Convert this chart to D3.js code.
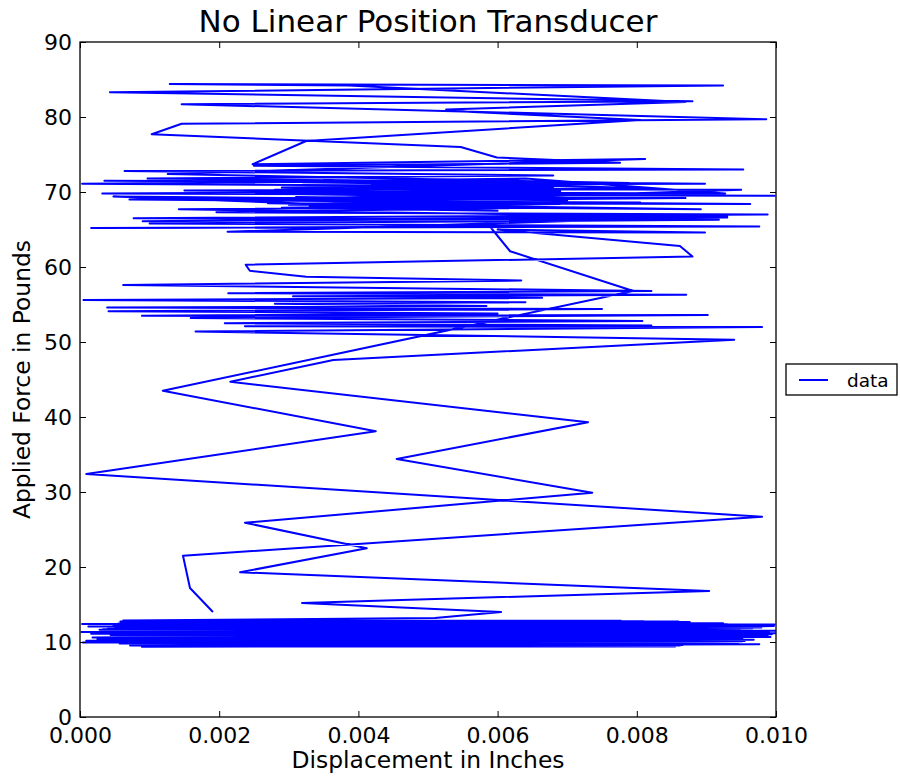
<!DOCTYPE html>
<html>
<head>
<meta charset="utf-8">
<script src="https://cdn.jsdelivr.net/npm/d3@7"></script>
<style>
  body { margin: 0; background: #fff; }
  text { font-family: "DejaVu Sans", sans-serif; fill: #000; }
</style>
</head>
<body>
<svg id="chart" width="900" height="777"></svg>
<script>
// Displacement (in) vs applied force (lb), in acquisition order.
// Loading ramp from the first sample up to the upper hold.
const rampUp = [
  [0.00191,14.0],[0.00158,17.2],[0.00148,21.5],[0.00980,26.7],[0.00009,32.4],
  [0.00425,38.1],[0.00119,43.5],[0.00795,56.8],[0.00618,62.1],[0.00589,65.4]
];

// Upper hold, first pass (65–74 lb).
const upperHoldA = [
  [0.00016,65.2],[0.00976,65.4],[0.00100,65.8],[0.00918,66.3],[0.00077,66.5],
  [0.00988,67.0],[0.00196,67.3],[0.00640,67.9],[0.00330,68.1],[0.00892,67.7],
  [0.00270,68.5],[0.00963,68.4],[0.00071,69.0],[0.00560,69.2],[0.00380,69.6],
  [0.00998,69.5],[0.00032,69.8],[0.00690,70.1],[0.00300,70.4],[0.00950,70.3],
  [0.00300,68.3],[0.00650,68.6],[0.00280,68.9],[0.00670,69.3],[0.00310,69.7],
  [0.00620,70.0],[0.00290,70.6],[0.00660,70.9],[0.00320,71.3],[0.00630,71.6],
  [0.00003,71.1],[0.00600,70.8],[0.00420,71.0],[0.00898,71.1],[0.00097,71.8],
  [0.00680,72.2],[0.00064,72.8],[0.00953,73.0],[0.00250,73.5],[0.00776,73.9]
];

// Peak excursion up to ~84 lb and back.
const peak = [
  [0.00599,74.6],[0.00547,76.0],[0.00103,77.7],[0.00146,79.1],[0.00986,79.7],
  [0.00146,81.7],[0.00880,82.1],[0.00043,83.3],[0.00924,84.2],[0.00129,84.4],
  [0.00386,84.2],[0.00870,82.0],[0.00526,81.0],[0.00557,80.7],[0.00805,79.6],
  [0.00325,76.8],[0.00248,73.7],[0.00812,74.4]
];

// Upper hold, second pass.
const upperHoldB = [
  [0.00126,72.4],[0.00789,71.2],[0.00035,71.5],[0.00650,71.3],[0.00350,71.6],
  [0.00820,70.5],[0.00150,70.2],[0.00620,69.9],[0.00340,70.0],[0.00927,69.8],
  [0.00640,71.8],[0.00300,71.4],[0.00680,70.7],[0.00280,70.3],[0.00650,69.5],
  [0.00330,69.1],[0.00690,68.4],[0.00290,67.9],[0.00600,67.5],
  [0.00048,69.4],[0.00700,68.9],[0.00310,69.3],[0.00870,69.2],[0.00330,68.8],
  [0.00805,68.6],[0.00420,68.2],[0.00660,68.0],[0.00142,67.7],[0.00930,66.6],
  [0.00090,66.1],[0.00930,66.8],[0.00212,64.7],[0.00898,64.6],[0.00600,65.0]
];

// Unloading towards the middle hold.
const rampDownUpper = [
  [0.00862,62.8],[0.00880,61.4],[0.00238,60.3],[0.00244,59.5],[0.00325,58.7],
  [0.00634,58.2]
];

// Middle hold (51–58 lb).
const midHold = [
  [0.00062,57.6],[0.00821,56.8],[0.00213,56.5],[0.00871,56.3],[0.00306,56.1],
  [0.00664,55.9],[0.00005,55.6],[0.00640,55.3],[0.00280,55.1],[0.00584,54.8],
  [0.00039,54.6],[0.00750,54.4],[0.00041,54.1],[0.00600,53.8],[0.00089,53.5],
  [0.00902,53.6],[0.00159,53.2],[0.00808,52.8],[0.00208,52.5],[0.00821,52.2],
  [0.00237,52.1],[0.00980,52.0],[0.00166,51.4]
];

// Unloading towards the base hold.
const rampDownLower = [
  [0.00940,50.3],[0.00364,47.6],[0.00216,44.7],[0.00730,39.3],[0.00455,34.4],
  [0.00736,29.9],[0.00237,25.9],[0.00412,22.5],[0.00230,19.3],[0.00904,16.8],
  [0.00319,15.2],[0.00605,14.0],[0.00510,13.2]
];

// Base hold (9.4–12.9 lb).
const baseHold = [
  [0.00062,12.86],[0.00777,12.82],[0.00058,12.74],[0.00876,12.68],[0.00003,12.41],[0.00924,12.50],
  [0.00061,12.63],[0.00998,12.34],[0.00012,12.07],[0.00958,12.22],[0.00048,12.29],[0.00889,12.45],
  [0.00033,11.71],[0.00997,12.12],[0.00069,12.19],[0.00966,11.83],[0.00002,11.33],[0.00934,11.97],
  [0.00074,11.58],[0.00999,11.50],[0.00054,11.89],[0.00904,12.03],[0.00016,11.11],[0.00986,11.39],
  [0.00063,12.55],[0.00871,12.58],[0.00040,11.78],[0.00948,11.66],[0.00021,11.24],[0.00999,11.16],
  [0.00071,11.45],[0.00917,11.74],[0.00044,10.92],[0.00988,10.80],[0.00066,11.02],[0.00880,11.28],
  [0.00018,10.61],[0.00975,10.96],[0.00059,10.74],[0.00992,10.66],[0.00083,10.44],[0.00899,10.43],
  [0.00009,10.18],[0.00952,10.55],[0.00067,10.86],[0.00940,10.20],[0.00004,9.92],[0.00951,10.05],
  [0.00089,9.38],[0.00855,9.41],[0.00072,9.55],[0.00976,9.69],[0.00090,9.47],[0.00862,9.52],
  [0.00057,9.80],[0.00945,9.88],[0.00081,9.62],[0.00908,9.75],[0.00035,10.10],[0.00968,10.30],
  [0.00078,9.98],[0.00883,10.12],[0.00025,10.36],[0.00985,10.70],[0.00062,10.52],[0.00921,10.88],
  [0.00046,11.18],[0.00994,11.05],[0.00070,11.36],[0.00896,11.55],[0.00028,11.62],[0.00979,11.92],
  [0.00065,11.95],[0.00912,12.10],[0.00050,12.02],[0.00943,12.28],[0.00060,12.38],[0.00860,12.72],
  [0.00064,12.80],[0.00810,12.76],[0.00055,12.46],[0.00930,12.36],[0.00038,11.52],[0.00990,11.28],
  [0.00073,10.98],[0.00870,10.58],[0.00030,10.26],[0.00938,9.97],[0.00085,9.70],[0.00866,9.60],
  [0.00060,9.86],[0.00955,10.15],[0.00052,10.40],[0.00893,10.78],[0.00076,11.12],[0.00965,11.45],
  [0.00058,11.80],[0.00850,12.15]
];

const xTicks = [0, 0.002, 0.004, 0.006, 0.008, 0.010];
const yTicks = [0, 10, 20, 30, 40, 50, 60, 70, 80, 90];
const seriesName = "data";
const titleText = "No Linear Position Transducer";
const xLabel = "Displacement in Inches";
const yLabel = "Applied Force in Pounds";

const samples = [].concat(rampUp, upperHoldA, peak, upperHoldB,
                          rampDownUpper, midHold, rampDownLower, baseHold);

// Plot frame
const plot = { left: 80, right: 776, top: 42, bottom: 717 };

const x = d3.scaleLinear().domain([0, 0.010]).range([plot.left, plot.right]);
const y = d3.scaleLinear().domain([0, 90]).range([plot.bottom, plot.top]);

const svg = d3.select("#chart");
svg.append("rect").attr("width", 900).attr("height", 777).attr("fill", "#fff");

svg.append("defs").append("clipPath").attr("id", "plot-clip")
  .append("rect")
  .attr("x", plot.left).attr("y", plot.top)
  .attr("width", plot.right - plot.left).attr("height", plot.bottom - plot.top);

// Data trace
const line = d3.line().x(d => x(d[0])).y(d => y(d[1]));
svg.append("path")
  .datum(samples)
  .attr("clip-path", "url(#plot-clip)")
  .attr("d", line)
  .attr("fill", "none")
  .attr("stroke", "#0000ff")
  .attr("stroke-width", 2)
  .attr("stroke-linejoin", "round")
  .attr("stroke-linecap", "butt");

// Axes with inward ticks on all four sides
const tickLen = 6;
function styleAxis(g) {
  g.select(".domain").remove();
  g.selectAll(".tick line").attr("stroke", "#000").attr("stroke-width", 1);
}

svg.append("g")
  .attr("transform", `translate(0,${plot.bottom})`)
  .call(d3.axisBottom(x).tickValues(xTicks).tickFormat(d3.format(".3f"))
        .tickSize(-tickLen).tickPadding(10))
  .call(styleAxis)
  .call(g => g.selectAll("text").attr("font-size", 22).attr("font-family", "DejaVu Sans"));

svg.append("g")
  .attr("transform", `translate(0,${plot.top})`)
  .call(d3.axisTop(x).tickValues(xTicks).tickFormat("").tickSize(-tickLen))
  .call(styleAxis);

svg.append("g")
  .attr("transform", `translate(${plot.left},0)`)
  .call(d3.axisLeft(y).tickValues(yTicks).tickFormat(d3.format("d"))
        .tickSize(-tickLen).tickPadding(8))
  .call(styleAxis)
  .call(g => g.selectAll("text").attr("font-size", 22).attr("font-family", "DejaVu Sans"));

svg.append("g")
  .attr("transform", `translate(${plot.right},0)`)
  .call(d3.axisRight(y).tickValues(yTicks).tickFormat("").tickSize(-tickLen))
  .call(styleAxis);

// Frame
svg.append("rect")
  .attr("x", plot.left).attr("y", plot.top)
  .attr("width", plot.right - plot.left).attr("height", plot.bottom - plot.top)
  .attr("fill", "none").attr("stroke", "#000").attr("stroke-width", 1.3);

// Title and axis labels
svg.append("text")
  .attr("x", (plot.left + plot.right) / 2).attr("y", 32)
  .attr("text-anchor", "middle").attr("font-size", 31)
  .text(titleText);

svg.append("text")
  .attr("x", (plot.left + plot.right) / 2).attr("y", 768)
  .attr("text-anchor", "middle").attr("font-size", 23.4)
  .text(xLabel);

svg.append("text")
  .attr("transform", `translate(30,${(plot.top + plot.bottom) / 2}) rotate(-90)`)
  .attr("text-anchor", "middle").attr("font-size", 23.4)
  .text(yLabel);

// Legend
const legend = svg.append("g").attr("transform", "translate(786,364)");
legend.append("rect")
  .attr("width", 111).attr("height", 31)
  .attr("fill", "#fff").attr("stroke", "#000").attr("stroke-width", 1.3);
legend.append("line")
  .attr("x1", 13).attr("x2", 42).attr("y1", 16).attr("y2", 16)
  .attr("stroke", "#0000ff").attr("stroke-width", 2);
legend.append("text")
  .attr("x", 61).attr("y", 23).attr("font-size", 18.5)
  .text(seriesName);
</script>
</body>
</html>
